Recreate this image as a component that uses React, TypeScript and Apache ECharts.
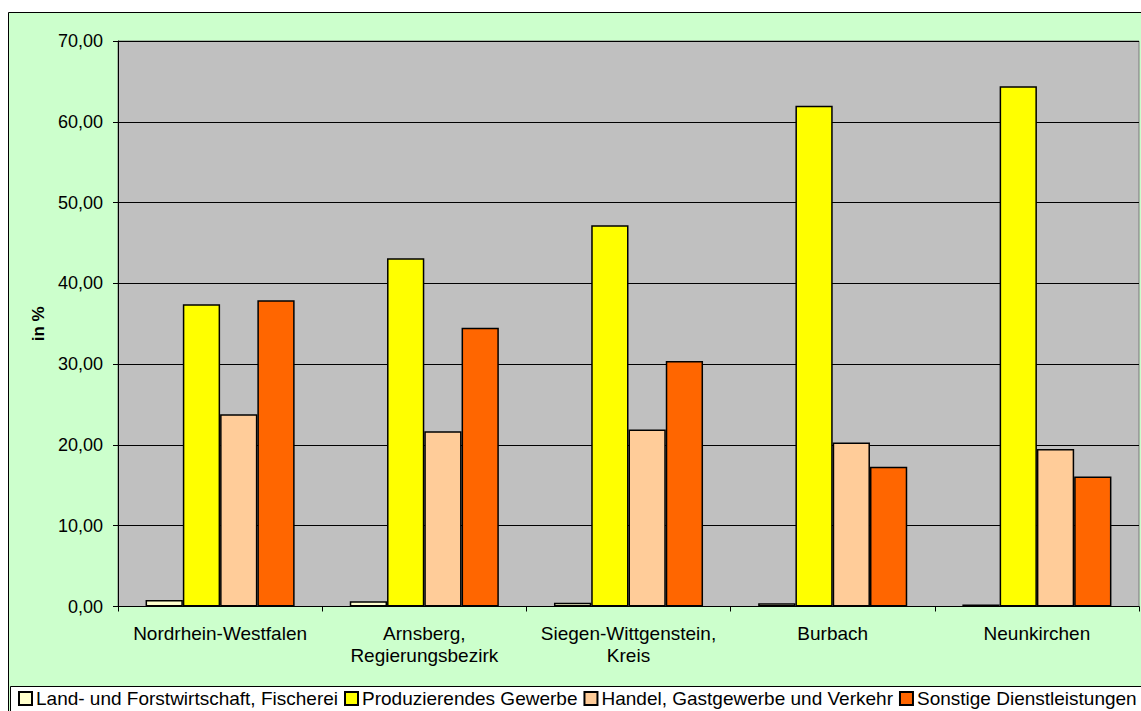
import React, { useEffect, useRef } from "react";
import * as echarts from "echarts";

// Regions shown along the x axis
const regions = [
  "Nordrhein-Westfalen",
  "Arnsberg,\nRegierungsbezirk",
  "Siegen-Wittgenstein,\nKreis",
  "Burbach",
  "Neunkirchen",
];

// Share of employees per economic sector, in %
const landForst = [0.8, 0.64, 0.47, 0.4, 0.25];
const produzierend = [37.4, 43.1, 47.2, 62.0, 64.4];
const handel = [23.8, 21.7, 21.9, 20.3, 19.5];
const sonstige = [37.9, 34.5, 30.4, 17.3, 16.1];

const sectorNames = [
  "Land- und Forstwirtschaft, Fischerei",
  "Produzierendes Gewerbe",
  "Handel, Gastgewerbe und Verkehr",
  "Sonstige Dienstleistungen",
];
const sectorColors = ["#FFFFCC", "#FFFF00", "#FFCC99", "#FF6600"];

const yTicks = { min: 0, max: 70, interval: 10 };

const FONT = "'Liberation Sans', Arial, sans-serif";

export default function App() {
  const ref = useRef<HTMLDivElement>(null);

  useEffect(() => {
    if (!ref.current) return;
    const chart = echarts.init(ref.current, null, { renderer: "svg" });
    const values = [landForst, produzierend, handel, sonstige];

    chart.setOption({
      animation: false,
      backgroundColor: "#FFFFFF",
      textStyle: { fontFamily: FONT, color: "#000" },
      graphic: [
        {
          type: "rect",
          z: -20,
          shape: { x: 8.5, y: 12.5, width: 1200, height: 800 },
          style: { fill: "#CCFFCC", stroke: "#000", lineWidth: 1 },
        },
        {
          type: "rect",
          z: -10,
          shape: { x: 10.5, y: 686.5, width: 1200, height: 100 },
          style: { fill: "#FFFFFF", stroke: "#000", lineWidth: 1 },
        },
      ],
      grid: {
        left: 118,
        right: 2,
        top: 41,
        bottom: 104.5,
        show: true,
        backgroundColor: "#C0C0C0",
        borderColor: "#7A7A7A",
        borderWidth: 1,
      },
      legend: {
        left: 13,
        top: 684,
        width: 1300,
        itemWidth: 13,
        itemHeight: 13,
        itemGap: 6,
        icon: "rect",
        textStyle: { fontFamily: FONT, fontSize: 19, color: "#000", padding: [0, 0, 0, -1] },
        data: sectorNames,
      },
      xAxis: {
        type: "category",
        data: regions,
        axisLine: { lineStyle: { color: "#000", width: 1 } },
        axisTick: { show: true, length: 5, lineStyle: { color: "#000" } },
        axisLabel: {
          fontFamily: FONT,
          fontSize: 19,
          color: "#000",
          margin: 16,
          lineHeight: 22,
          interval: 0,
        },
      },
      yAxis: {
        type: "value",
        min: yTicks.min,
        max: yTicks.max,
        interval: yTicks.interval,
        name: "in %",
        nameLocation: "middle",
        nameGap: 71,
        nameTextStyle: { fontFamily: FONT, fontSize: 17, fontWeight: "bold", color: "#000" },
        axisLine: { show: true, lineStyle: { color: "#000", width: 1 } },
        axisTick: { show: true, length: 5, lineStyle: { color: "#000" } },
        axisLabel: {
          fontFamily: FONT,
          fontSize: 18,
          color: "#000",
          margin: 15,
          formatter: (v: number) => v.toFixed(2).replace(".", ","),
        },
        splitLine: { show: true, lineStyle: { color: "#000", width: 1 } },
      },
      series: sectorNames.map((name, i) => ({
        name,
        type: "bar",
        data: values[i],
        barGap: "0%",
        barCategoryGap: "27%",
        itemStyle: {
          color: sectorColors[i],
          borderColor: "#000",
          borderWidth: 1.5,
        },
      })),
    });

    return () => chart.dispose();
  }, []);

  return (
    <div
      ref={ref}
      style={{ position: "fixed", left: 0, top: 0, width: 1141, height: 711 }}
    />
  );
}
